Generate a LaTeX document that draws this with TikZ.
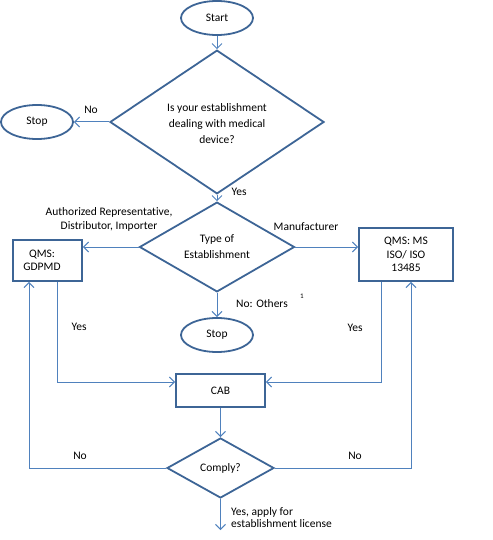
\documentclass[tikz,border=0pt]{standalone}
\usepackage{fontspec}
\setmainfont{Carlito}[Ligatures=NoCommon]
\usetikzlibrary{arrows.meta,positioning,shapes.geometric}

\definecolor{shapeblue}{HTML}{3D6596}
\definecolor{lineblue}{HTML}{4F81BD}

\begin{document}
\begin{tikzpicture}[x=1pt, y=-1pt,
  every node/.style={font=\fontsize{11.5}{13.5}\selectfont},
  terminal/.style={ellipse, draw=shapeblue, line width=1.8pt, minimum width=72pt,
                   minimum height=34pt, inner sep=0pt},
  decision/.style={diamond, draw=shapeblue, line width=1.8pt, inner sep=0pt, align=center,
                   font=\fontsize{11.5}{16}\selectfont},
  procbox/.style={rectangle, draw=shapeblue, line width=1.8pt, inner sep=0pt, align=center},
  arr/.style={-{Straight Barb[length=5pt, width=10pt]}, draw=lineblue, line width=1pt},
  lne/.style={draw=lineblue, line width=1pt},
  lbl/.style={inner sep=0pt, align=center}
]
  \useasboundingbox (0,0) rectangle (492,540);

  % shapes
  \node[terminal] (start) at (217,18) {Start};
  \node[decision, minimum width=214pt, minimum height=111pt] (medq) at (217,122)
    {\mbox{}\\[-4pt]Is your establishment\\dealing with medical\\device?};
  \node[terminal] (stopa) at (37,122) {Stop};
  \node[decision, minimum width=155pt, minimum height=79pt] (typeq) at (217,247)
    {Type of\\Establishment};
  \node[procbox, minimum width=69pt, minimum height=41pt] (gdpmd) at (47.5,260.5)
    {QMS:\hspace*{11pt}\\GDPMD\hspace*{11pt}};
  \node[procbox, minimum width=94pt, minimum height=53pt] (iso) at (406,254.5)
    {QMS: MS\\ISO/ ISO\hspace*{4pt}\\13485};
  \node[terminal] (stopb) at (217,335) {Stop};
  \node[procbox, minimum width=89pt, minimum height=33pt] (cab) at (220.5,390.5) {CAB};
  \node[decision, minimum width=107pt, minimum height=60pt] (comply) at (220.5,468) {Comply?};
  \coordinate (apply) at (220.5,530);

  % connectors
  \draw[arr] (start) -- (medq);
  \draw[arr] (medq) -- (stopa);
  \draw[arr] (medq) -- (typeq);
  \draw[arr] (typeq.west) -- (typeq.west -| gdpmd.east);
  \draw[arr] (typeq.east) -- (typeq.east -| iso.west);
  \draw[arr] (typeq) -- (stopb);
  \draw[arr] ([xshift=9.5pt]gdpmd.south) |- ([yshift=8.5pt]cab.west);
  \draw[arr] ([xshift=-25pt]iso.south) |- ([yshift=8.5pt]cab.east);
  \draw[arr] (cab) -- (comply);
  \draw[arr] (comply.west) -| ([xshift=-18.5pt]gdpmd.south);
  \draw[arr] (comply.east) -| ([xshift=5pt]iso.south);
  \draw[arr] (comply) -- (apply);

  % labels
  \node[lbl] (nomed) at (91,110) {No};
  \node[lbl] (yesmed) at (239,192) {Yes};
  \node[lbl] (ardi) at (109,219.5) {Authorized Representative,\\Distributor, Importer};
  \node[lbl] (manu) at (306,227) {Manufacturer};
  \node[lbl] (others) at (262,304) {No: Others};
  \node[lbl, font=\fontsize{7}{8}\selectfont] (fnote) at (302,296) {1};
  \node[lbl] (yesgd) at (79,327) {Yes};
  \node[lbl] (yesiso) at (355,328) {Yes};
  \node[lbl] (nogd) at (80,456) {No};
  \node[lbl] (noiso) at (355,456) {No};
  \node[lbl, anchor=west, align=left, font=\fontsize{11.5}{12}\selectfont] (lic) at (231,517.5)
    {Yes, apply for\\establishment license};
\end{tikzpicture}
\end{document}
